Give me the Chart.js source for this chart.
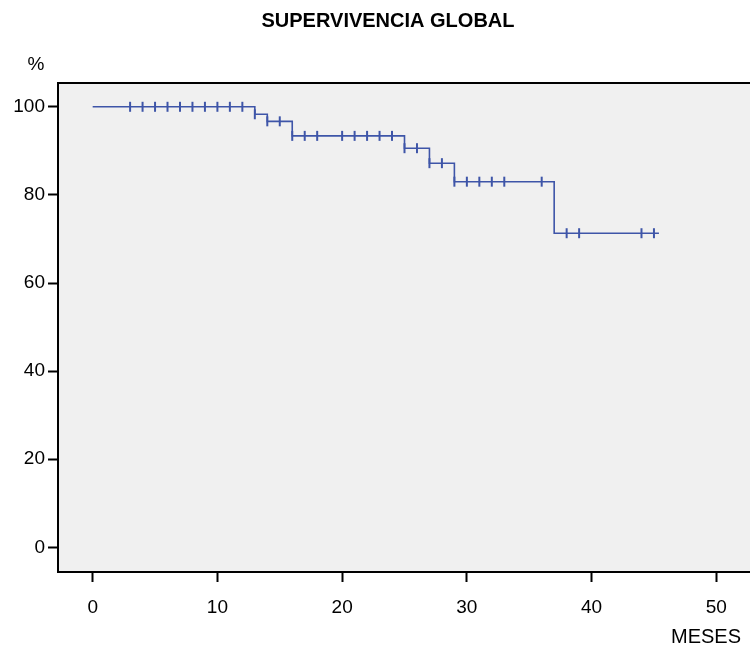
<!DOCTYPE html>
<html>
<head>
<meta charset="utf-8">
<script src="https://cdn.jsdelivr.net/npm/chart.js@4"></script>
<style>
  html, body { margin: 0; padding: 0; background: #fff; }
  #wrap { width: 750px; height: 652px; }
</style>
</head>
<body>
<div id="wrap"><canvas id="survivalChart" width="750" height="652"></canvas></div>
<script>
// Kaplan-Meier steps (month of event, survival % after it)
const eventMonths = [0, 13, 14, 16, 25, 27, 29, 37, 45.4];
const survival = [100, 98.3, 96.7, 93.4, 90.6, 87.2, 83.0, 71.3, 71.3];

// censored cases
const censorMonths = [3, 4, 5, 6, 7, 8, 9, 10, 11, 12, 13, 14, 15, 16, 17, 18, 20, 21, 22, 23, 24, 25, 26, 27, 28, 29, 30, 31, 32, 33, 36, 38, 39, 44, 45];
const censorSurvival = [100, 100, 100, 100, 100, 100, 100, 100, 100, 100, 98.3, 96.7, 96.7, 93.4, 93.4, 93.4, 93.4, 93.4, 93.4, 93.4, 93.4, 90.6, 90.6, 87.2, 87.2, 83.0, 83.0, 83.0, 83.0, 83.0, 83.0, 71.3, 71.3, 71.3, 71.3];

const xTicks = [0, 10, 20, 30, 40, 50];
const yTicks = [0, 20, 40, 60, 80, 100];

const lineColor = "rgb(62, 85, 168)";
const fontFamily = "'Liberation Sans', Arial, sans-serif";

// gray plot background, top border and the free text labels
const decorations = {
  id: "decorations",
  beforeDraw(chart) {
    const { ctx, chartArea } = chart;
    ctx.save();
    ctx.fillStyle = "#f0f0f0";
    ctx.fillRect(chartArea.left, chartArea.top, chartArea.right - chartArea.left, chartArea.bottom - chartArea.top);
    ctx.restore();
  },
  afterDraw(chart) {
    const { ctx, chartArea } = chart;
    ctx.save();
    ctx.strokeStyle = "#000";
    ctx.lineWidth = 2;
    ctx.beginPath();
    ctx.moveTo(chartArea.left - 1, chartArea.top);
    ctx.lineTo(chartArea.right, chartArea.top);
    ctx.stroke();

    ctx.fillStyle = "#000";
    ctx.textBaseline = "middle";
    ctx.font = "bold 20px " + fontFamily;
    ctx.textAlign = "center";
    ctx.fillText("SUPERVIVENCIA GLOBAL", 388, 21);

    ctx.font = "19px " + fontFamily;
    ctx.fillText("%", 36, 65);
    ctx.textAlign = "right";
    ctx.font = "20px " + fontFamily;
    ctx.fillText("MESES", 741, 637);
    ctx.restore();
  },
};

const ctx = document.getElementById("survivalChart").getContext("2d");
new Chart(ctx, {
  type: "scatter",
  data: {
    datasets: [
      {
        label: "Supervivencia",
        data: eventMonths.map((m, i) => ({ x: m, y: survival[i] })),
        showLine: true,
        stepped: "before",
        borderColor: lineColor,
        borderWidth: 1.6,
        pointRadius: 0,
        fill: false,
      },
      {
        label: "Censurado",
        data: censorMonths.map((m, i) => ({ x: m, y: censorSurvival[i] })),
        showLine: false,
        pointStyle: "line",
        rotation: 90,
        pointRadius: 5,
        borderColor: lineColor,
        borderWidth: 2,
      },
    ],
  },
  options: {
    responsive: false,
    animation: false,
    layout: { autoPadding: false, padding: { top: 83, left: 0, right: 0, bottom: 0 } },
    plugins: {
      legend: { display: false },
      title: { display: false },
      tooltip: { enabled: false },
    },
    scales: {
      x: {
        type: "linear",
        min: -2.78,
        max: 52.7,
        afterBuildTicks: (axis) => {
          axis.ticks = xTicks.map((v) => ({ value: v }));
        },
        afterFit: (scale) => {
          scale.height = 80;
          scale.paddingLeft = 0;
          scale.paddingRight = 0;
        },
        grid: {
          drawOnChartArea: false,
          drawTicks: true,
          tickLength: 10,
          tickWidth: 2,
          tickColor: "#000",
        },
        border: { color: "#000", width: 2 },
        ticks: {
          color: "#000",
          padding: 14,
          font: { family: fontFamily, size: 19 },
        },
      },
      y: {
        type: "linear",
        min: -5.6,
        max: 105.4,
        afterBuildTicks: (axis) => {
          axis.ticks = yTicks.map((v) => ({ value: v }));
        },
        afterFit: (scale) => {
          scale.width = 58;
          scale.paddingTop = 0;
          scale.paddingBottom = 0;
        },
        grid: {
          drawOnChartArea: false,
          drawTicks: true,
          tickLength: 10,
          tickWidth: 2,
          tickColor: "#000",
        },
        border: { color: "#000", width: 2 },
        ticks: {
          color: "#000",
          padding: 3,
          font: { family: fontFamily, size: 19 },
        },
      },
    },
  },
  plugins: [decorations],
});
</script>
</body>
</html>
